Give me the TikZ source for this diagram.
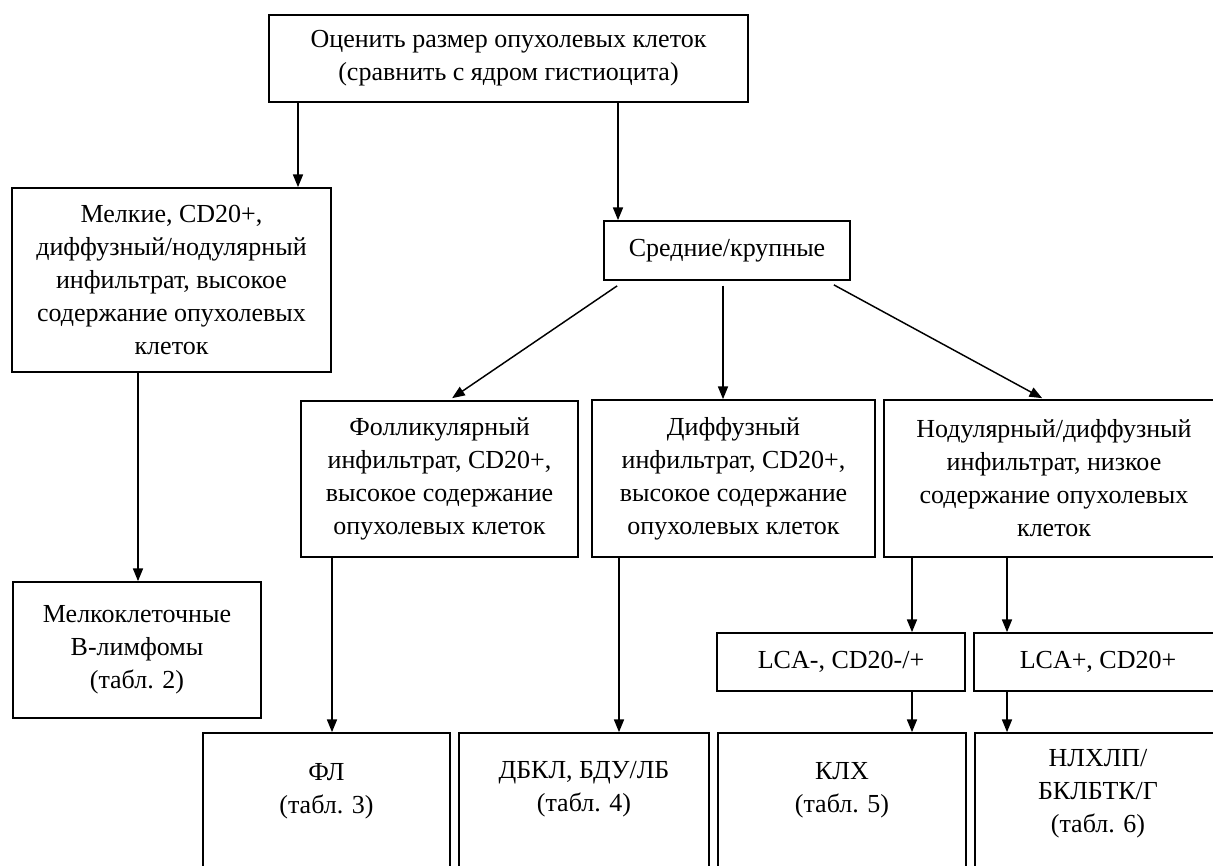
\documentclass[tikz,border=0pt]{standalone}
\usepackage{fontspec}
\setmainfont{Liberation Serif}
\usetikzlibrary{arrows.meta,calc}
\begin{document}
\begin{tikzpicture}[x=0.75pt,y=-0.75pt,
  box/.style={draw, line width=1.3pt, align=center, inner sep=0pt,
    font=\fontsize{19.5}{24.75}\selectfont},
  txt/.style={align=center, inner sep=0pt, font=\fontsize{19.5}{24.75}\selectfont},
  arr/.style={line width=1.1pt, -{Triangle[length=9.5pt,width=7.5pt]}}]
\useasboundingbox (0,0) rectangle (1213,865);
\clip (0,0) rectangle (1213,865);

% boxes
\node[box, minimum width=359.25pt, minimum height=65.25pt] (top) at (508.5,58.5)
  {Оценить размер опухолевых клеток\\(сравнить с ядром гистиоцита)};
\node[box, minimum width=239.25pt, minimum height=138pt] (small) at (171.5,280)
  {Мелкие, CD20+,\\диффузный/нодулярный\\инфильтрат, высокое\\содержание опухолевых\\клеток};
\node[box, minimum width=184.5pt, minimum height=44.25pt] (mid) at (727,250.5)
  {Средние/крупные};
\node[box, minimum width=207.75pt, minimum height=117pt] (foll) at (439.5,479)
  {Фолликулярный\\инфильтрат, CD20+,\\высокое содержание\\опухолевых клеток};
\node[box, minimum width=212.25pt, minimum height=117.75pt] (diff) at (733.5,478.5)
  {Диффузный\\инфильтрат, CD20+,\\высокое содержание\\опухолевых клеток};
\node[box, minimum width=255pt, minimum height=117.75pt] (nodul) at (1054,478.5)
  {Нодулярный/диффузный\\инфильтрат, низкое\\содержание опухолевых\\клеток};
\node[box, minimum width=186pt, minimum height=102pt] (smallcell) at (137,650)
  {Мелкоклеточные\\B-лимфомы\\(табл. 2)};
\node[box, minimum width=186pt, minimum height=43.5pt] (lcaneg) at (841,662)
  {LCA-, CD20-/+};
\node[box, minimum width=186pt, minimum height=43.5pt] (lcapos) at (1098,662)
  {LCA+, CD20+};

% bottom boxes (cut by the lower edge)
\node[box, minimum width=185.25pt, minimum height=125.25pt] (fl) at (326.5,816.5) {};
\node[box, minimum width=187.5pt, minimum height=125.25pt] (dbkl) at (584,816.5) {};
\node[box, minimum width=186pt, minimum height=125.25pt] (klh) at (842,816.5) {};
\node[box, minimum width=184.5pt, minimum height=125.25pt] (nlh) at (1098,816.5) {};
\node[txt] (flt) at (326.5,791.5) {ФЛ\\(табл. 3)};
\node[txt] (dbklt) at (584,789.5) {ДБКЛ, БДУ/ЛБ\\(табл. 4)};
\node[txt] (klht) at (842,790) {КЛХ\\(табл. 5)};
\node[txt] (nlht) at (1098,793.5) {НЛХЛП/\\БКЛБТК/Г\\(табл. 6)};

% connector x positions
\coordinate (x1) at (298,0);
\coordinate (x2) at (618,0);
\coordinate (x3) at (723,0);
\coordinate (x4) at (138,0);
\coordinate (x5) at (332,0);
\coordinate (x6) at (619,0);
\coordinate (x7) at (912,0);
\coordinate (x8) at (1007,0);

% connectors
\draw[arr] (top.south -| x1) -- (small.north -| x1);
\draw[arr] (top.south -| x2) -- (mid.north -| x2);
\draw[arr] ($(mid.south west)+(14,5)$) -- ($(foll.north west)+(152,-2)$);
\draw[arr, shorten <=3.5pt] (mid.south -| x3) -- (diff.north -| x3);
\draw[arr] ($(mid.south east)+(-17,4)$) -- ($(nodul.north west)+(159,-1)$);
\draw[arr] (small.south -| x4) -- (smallcell.north -| x4);
\draw[arr] (foll.south -| x5) -- (fl.north -| x5);
\draw[arr] (diff.south -| x6) -- (dbkl.north -| x6);
\draw[arr] (nodul.south -| x7) -- (lcaneg.north -| x7);
\draw[arr] (nodul.south -| x8) -- (lcapos.north -| x8);
\draw[arr] (lcaneg.south -| x7) -- (klh.north -| x7);
\draw[arr] (lcapos.south -| x8) -- (nlh.north -| x8);
\end{tikzpicture}
\end{document}
